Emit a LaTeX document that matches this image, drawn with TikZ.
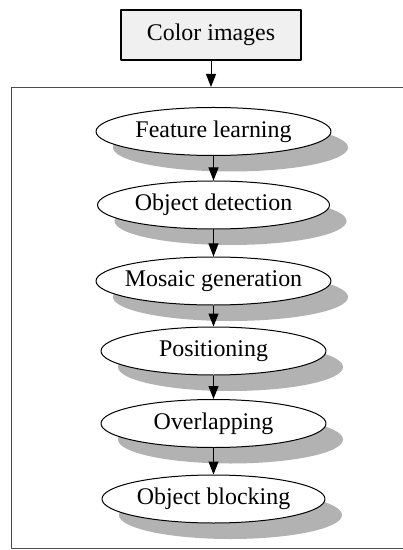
\documentclass[tikz,border=0pt]{standalone}
\usepackage{fontspec}
\setmainfont{Liberation Serif}
\usetikzlibrary{shapes.geometric,shadows,arrows.meta}
\begin{document}
\begin{tikzpicture}[>={Triangle[width=5bp,length=6.5bp]},line join=bevel,x=0.5bp,y=-0.5bp,
  inbox/.style={draw,line width=0.55bp,fill=black!6,minimum width=90bp,minimum height=25bp,inner sep=0pt,font=\fontsize{12}{14}\selectfont},
  stage/.style={ellipse,draw,line width=0.5bp,fill=white,minimum height=24bp,inner ysep=0pt,inner xsep=-7bp,font=\fontsize{12}{14}\selectfont,
    drop shadow={shadow xshift=8.5bp,shadow yshift=-8bp,fill=black!30,opacity=1}}]
  \useasboundingbox (0,0) rectangle (403,550);
%%
  % Node: Color images
  \node[inbox] (img) at (211,35) {Color images};
  % Node: frame
  \node[draw=black!70,line width=0.6bp,minimum width=200bp,minimum height=230.5bp,inner sep=0pt,anchor=north west] (frame) at (10.5,87) {};
  % Nodes: stages
  \node[stage,minimum width=117.5bp] (learn) at (213.5,131.5) {Feature learning};
  \node[stage,minimum width=116bp]   (detect) at (213.5,205) {Object detection};
  \node[stage,minimum width=117.5bp] (mosaic) at (213.5,281) {Mosaic generation};
  \node[stage,minimum width=112.5bp] (pos) at (213.5,351) {Positioning};
  \node[stage,minimum width=112.5bp] (overlap) at (213.5,423.5) {Overlapping};
  \node[stage,minimum width=111.5bp] (block) at (213.5,499) {Object blocking};
%%
  % Edge: Color images -> frame
  \draw [->,line width=0.5bp] (img) -- (img |- frame.north);
  % Edges: stage -> stage
  \foreach \a/\b in {learn/detect,detect/mosaic,mosaic/pos,pos/overlap,overlap/block}
    \draw [->,line width=0.5bp] (\a) -- (\b);
%
\end{tikzpicture}
\end{document}
